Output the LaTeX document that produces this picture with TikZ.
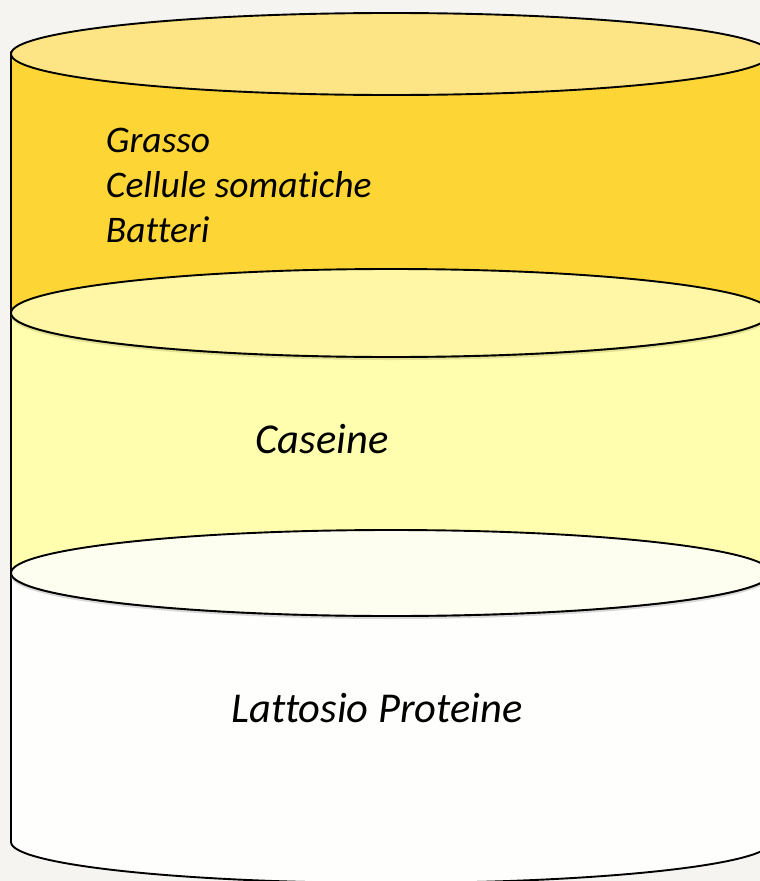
\documentclass[tikz,border=0pt]{standalone}
\usepackage{fontspec}
\setmainfont{Carlito}[Ligatures=NoCommon]
\usetikzlibrary{positioning}
\definecolor{bgcol}{HTML}{F5F4F1}
\definecolor{fatside}{HTML}{FDD535}
\definecolor{fattop}{HTML}{FDE484}
\definecolor{casside}{HTML}{FFFDAE}
\definecolor{castop}{HTML}{FFF7A6}
\definecolor{lacside}{HTML}{FEFEFC}
\definecolor{lactop}{HTML}{FEFEF0}

\begin{document}
\begin{tikzpicture}[x=1pt, y=-1pt, line width=1.9pt,
    side/.style={draw=black, line join=round},
    face/.style={draw=black},
    shade/.style={fill=black!25, draw=none, opacity=0.6},
    label/.style={inner sep=0pt, font=\itshape\fontsize{37.5}{45}\selectfont},
    biglabel/.style={label, font=\itshape\fontsize{42.5}{50}\selectfont}]

    % Background
    \fill[bgcol] (0,0) rectangle (760,881);
    \useasboundingbox (0,0) rectangle (760,881);
    \clip (0,0) rectangle (760,881);

    % Bottom layer
    \path[side, fill=lacside] (11,573) -- (11,842) arc[start angle=180, end angle=0, x radius=380, y radius=41] -- (771,573) -- cycle;
    % Middle layer
    \path[side, fill=casside] (11,313) -- (11,573) arc[start angle=180, end angle=0, x radius=380, y radius=43] -- (771,313) -- cycle;
    \path[shade] (391,576) ellipse[x radius=380, y radius=43];
    \path[face, fill=lactop] (391,573) ellipse[x radius=380, y radius=43];
    % Top layer
    \path[side, fill=fatside] (11,52) -- (11,313) arc[start angle=180, end angle=0, x radius=380, y radius=44] -- (771,52) -- cycle;
    \path[shade, fill=olive!40] (391,316) ellipse[x radius=380, y radius=44];
    \path[face, fill=castop] (391,313) ellipse[x radius=380, y radius=44];
    \path[face, fill=fattop] (391,54) ellipse[x radius=380, y radius=41];

    % Labels
    \node[label, anchor=base west] (grasso) at (105,152) {Grasso};
    \node[label, anchor=base west] (cellule) at (105,197) {Cellule somatiche};
    \node[label, anchor=base west] (batteri) at (105,242) {Batteri};
    \node[biglabel, anchor=base] (caseine) at (322,453) {Caseine};
    \node[biglabel, anchor=base] (lattosio) at (377,722) {Lattosio Proteine};

\end{tikzpicture}
\end{document}
